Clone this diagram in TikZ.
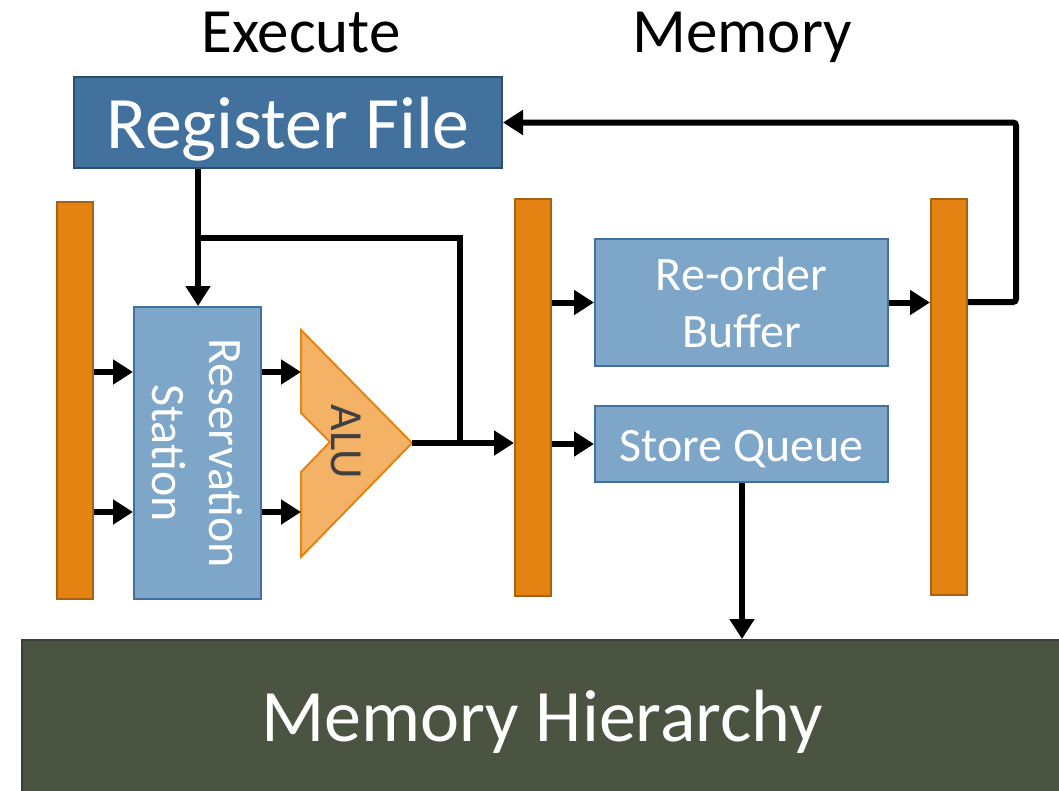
\documentclass[tikz,border=0pt]{standalone}
\usepackage{fontspec}
\setmainfont{Carlito}
\usepackage{tikz}
\usetikzlibrary{arrows.meta,positioning}

\definecolor{rfblue}{RGB}{65,113,156}
\definecolor{rfedge}{RGB}{44,78,110}
\definecolor{unitblue}{RGB}{126,166,201}
\definecolor{latchorange}{RGB}{228,131,18}
\definecolor{latchedge}{RGB}{168,98,18}
\definecolor{alufill}{RGB}{244,178,102}
\definecolor{memgreen}{RGB}{74,84,64}
\definecolor{memedge}{RGB}{58,62,52}
\definecolor{alutext}{RGB}{64,64,64}

\begin{document}
\begin{tikzpicture}
[x=1pt,y=-1pt,
 latch/.style={rectangle,draw=latchedge,fill=latchorange,line width=2pt,
   minimum width=36pt,inner sep=0pt},
 unit/.style={rectangle,draw=rfblue,fill=unitblue,line width=2pt,inner sep=0pt,
   text=white,font=\fontsize{48}{57}\selectfont,align=center},
 header/.style={anchor=base,inner sep=0pt,font=\fontsize{63}{75}\selectfont},
 wire/.style={line width=6pt,line cap=butt},
 arr/.style={wire,-{Triangle[length=20pt,width=24pt]}}]
\useasboundingbox (0,0) rectangle (1059,790);

\node[header] (exec) at (301,52) {Execute};
\node[header] (mem) at (742,52) {Memory};

\node[rectangle,draw=rfedge,fill=rfblue,line width=2pt,minimum width=428pt,
  minimum height=91pt,text height=51pt,text depth=0pt,text=white,
  font=\fontsize{74}{88}\selectfont] (rf) at (288,122.5) {Register File};

\node[latch,minimum height=397pt] (l1) at (75,400.5) {};
\node[latch,minimum height=397pt] (l2) at (533,397.5) {};
\node[latch,minimum height=396pt] (l3) at (949,397) {};

\node[unit,minimum width=127pt,minimum height=292pt] (rs) at (197.5,453) {};
\node[rotate=-90,text=white,font=\fontsize{48}{57}\selectfont,align=center] (rstext) at (rs.center) {Reservation\\Station};

\draw[draw=latchorange,fill=alufill,line width=2pt,line join=miter]
  (301,330) -- (412,443) -- (301,557) -- (301,472) -- (330,442) -- (301,413) -- cycle;
\node[rotate=-90,text=alutext,font=\fontsize{46}{55}\selectfont] (alutxt) at (346,442) {ALU};
\coordinate (alu) at (412,443);

\node[unit,minimum width=293pt,minimum height=127pt] (rob) at (741.5,302.5) {Re-order\\Buffer};
\node[unit,minimum width=293pt,minimum height=76pt,text height=34pt,text depth=0pt] (sq) at (741.5,444) {Store Queue};

\node[rectangle,draw=memedge,fill=memgreen,line width=2pt,minimum width=1040pt,
  minimum height=160pt,text height=42pt,text depth=0pt,text=white,
  font=\fontsize{74}{88}\selectfont] (mh) at (542,720) {Memory Hierarchy};

% wires
\coordinate (split) at (198,238);
\coordinate (join) at (460,443);
\coordinate (in1) at (0,372);
\coordinate (in2) at (0,512);
\coordinate (wb) at (1016,302);
\coordinate (sqout) at (742,0);

\draw[wire] (rf.south -| split) -- (split);
\draw[arr] (split) -- (rs.north -| split);
\draw[wire,line join=miter] (split) -- (split -| join) -- (join);
\draw[arr] (alu) -- (l2.west |- alu);

\draw[arr] (l1.east |- in1) -- (rs.west |- in1);
\draw[arr] (l1.east |- in2) -- (rs.west |- in2);
\draw[arr] (rs.east |- in1) -- (301,372);
\draw[arr] (rs.east |- in2) -- (301,512);

\draw[arr] (l2.east |- rob) -- (rob.west);
\draw[arr] (l2.east |- sq) -- (sq.west);
\draw[arr] (rob.east) -- (l3.west |- rob);

\draw[arr,rounded corners=3pt] (l3.east |- wb) -- (wb) -- (wb |- rf) -- (rf.east);
\draw[arr] (sq.south -| sqout) -- (mh.north -| sqout);
\end{tikzpicture}
\end{document}
